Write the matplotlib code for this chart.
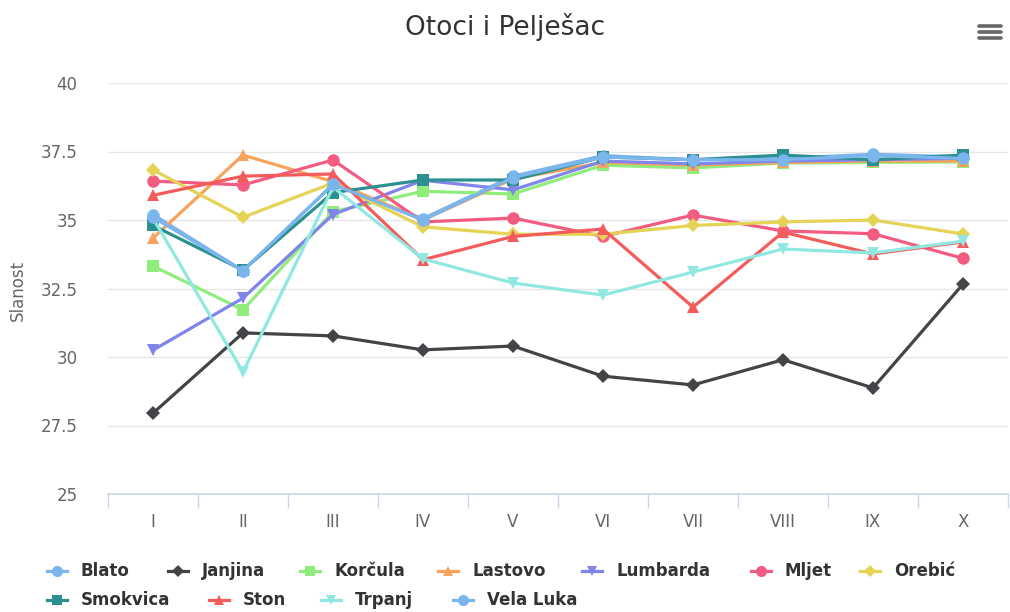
import matplotlib

matplotlib.use("Agg")
import matplotlib.pyplot as plt
from matplotlib.lines import Line2D

# Mjeseci i postaje
mjeseci = ["I", "II", "III", "IV", "V", "VI", "VII", "VIII", "IX", "X"]

blato = [35.2, 33.15, 36.3, 35.05, 36.6, 37.35, 37.2, 37.25, 37.4, 37.3]
janjina = [27.95, 30.88, 30.77, 30.26, 30.4, 29.3, 28.98, 29.9, 28.87, 32.66]
korcula = [33.32, 31.72, 35.3, 36.05, 35.95, 37.0, 36.9, 37.08, 37.1, 37.12]
lastovo = [34.34, 37.37, 36.4, 35.0, 36.5, 37.1, 37.0, 37.1, 37.15, 37.15]
lumbarda = [30.25, 32.15, 35.2, 36.45, 36.1, 37.15, 37.05, 37.15, 37.2, 37.25]
mljet = [36.42, 36.28, 37.19, 34.93, 35.07, 34.4, 35.18, 34.6, 34.5, 33.6]
orebic = [36.83, 35.1, 36.35, 34.75, 34.48, 34.48, 34.8, 34.93, 35.0, 34.49]
smokvica = [34.8, 33.17, 36.0, 36.46, 36.46, 37.3, 37.2, 37.37, 37.2, 37.37]
ston = [35.9, 36.6, 36.68, 33.55, 34.4, 34.67, 31.82, 34.56, 33.76, 34.2]
trpanj = [35.07, 29.45, 36.2, 33.58, 32.7, 32.26, 33.1, 33.94, 33.8, 34.23]
vela_luka = [35.1, 33.15, 36.3, 35.0, 36.55, 37.3, 37.2, 37.2, 37.35, 37.25]

nazivi = ["Blato", "Janjina", "Korčula", "Lastovo", "Lumbarda", "Mljet",
          "Orebić", "Smokvica", "Ston", "Trpanj", "Vela Luka"]
serije = [blato, janjina, korcula, lastovo, lumbarda, mljet,
          orebic, smokvica, ston, trpanj, vela_luka]

boje = ["#7cb5ec", "#434348", "#90ed7d", "#f7a35c", "#8085e9", "#f15c80",
        "#e4d354", "#2b908f", "#f45b5b", "#91e8e1", "#7cb5ec"]
markeri = ["o", "D", "s", "^", "v", "o", "D", "s", "^", "v", "o"]
vel_markera = {"o": 9, "D": 7, "s": 8, "^": 8.5, "v": 8.5}

yticks = [25, 27.5, 30, 32.5, 35, 37.5, 40]
ytick_labels = ["25", "27.5", "30", "32.5", "35", "37.5", "40"]

W, H = 1010, 612
fig = plt.figure(figsize=(W / 100, H / 100), dpi=100)
ax = fig.add_axes([108 / W, 1 - 494 / H, 900 / W, 411 / H])

x = list(range(len(mjeseci)))
for i, (naziv, vrijednosti) in enumerate(zip(nazivi, serije)):
    m = markeri[i]
    ax.plot(x, vrijednosti, color=boje[i], lw=2.3, marker=m,
            markersize=vel_markera[m], markeredgewidth=0, zorder=3 + i,
            clip_on=False)

ax.set_xlim(-0.5, len(mjeseci) - 0.5)
ax.set_ylim(25, 40)
ax.set_yticks(yticks)
ax.set_yticklabels(ytick_labels)
ax.set_xticks(x)
ax.set_xticklabels(mjeseci)
ax.set_xticks([i - 0.5 for i in range(len(mjeseci) + 1)], minor=True)
ax.tick_params(axis="y", length=0, pad=22, labelsize=12, labelcolor="#666666")
ax.tick_params(axis="x", which="major", length=0, pad=14, labelsize=12,
               labelcolor="#666666")
ax.tick_params(axis="x", which="minor", length=10, width=1, color="#ccd6eb")
ax.grid(axis="y", color="#e6e6e6", lw=1)
ax.set_axisbelow(True)
for s in ["left", "right", "top"]:
    ax.spines[s].set_visible(False)
ax.spines["bottom"].set_color("#ccd6eb")
ax.spines["bottom"].set_linewidth(1.2)

fig.text(18 / W, 1 - 290 / H, "Slanost", rotation=90, ha="center",
         va="center", fontsize=12, color="#666666")
fig.text(505 / W, 1 - 27 / H, "Otoci i Pelješac", ha="center", va="center",
         fontsize=19, color="#333333")

# ikona izbornika
for yy in [26, 32, 38]:
    fig.add_artist(Line2D([979 / W, 1001 / W], [1 - yy / H, 1 - yy / H],
                          color="#666666", lw=2.6, solid_capstyle="round"))

# legenda
leg_x = [57, 178, 310, 448, 592, 761, 870, 57, 219, 331, 463]
leg_y = [571, 571, 571, 571, 571, 571, 571, 600, 600, 600, 600]
for i, naziv in enumerate(nazivi):
    cx, cy = leg_x[i], leg_y[i]
    m = markeri[i]
    fig.add_artist(Line2D([(cx - 10) / W, (cx + 10) / W], [1 - cy / H, 1 - cy / H],
                          color=boje[i], lw=2.3))
    fig.add_artist(Line2D([cx / W], [1 - cy / H], color=boje[i], marker=m,
                          markersize=vel_markera[m] - 1, markeredgewidth=0))
    fig.text((cx + 24) / W, 1 - cy / H, naziv, ha="left", va="center",
             fontsize=12, fontweight="bold", color="#333333")

fig.savefig("out.png", dpi=100)
